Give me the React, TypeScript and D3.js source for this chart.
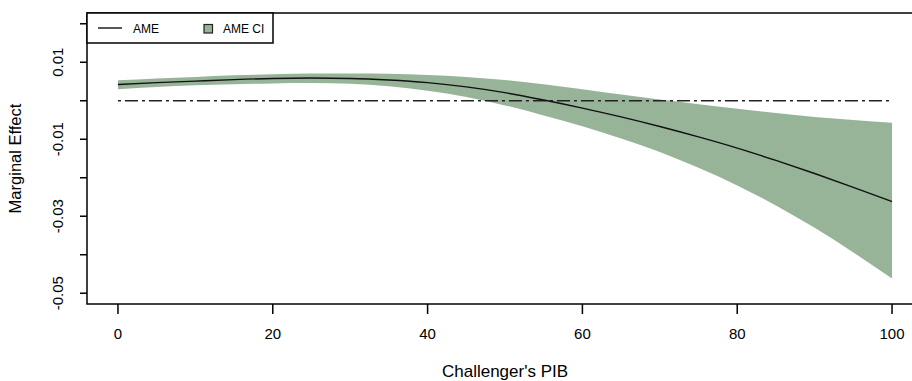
import React from 'react';
import * as d3 from 'd3';

// Challenger's PIB values and estimated marginal effect with CI
const pib = [0, 5, 10, 15, 20, 25, 30, 35, 40, 45, 50, 55, 60, 65, 70, 75, 80, 85, 90, 95, 100];
const ame = [0.0042, 0.0047, 0.0051, 0.0055, 0.0058, 0.0059, 0.0058, 0.0054, 0.0047, 0.0036, 0.0021, 0.0002,
  -0.0019, -0.0042, -0.0067, -0.0094, -0.0123, -0.0155, -0.0189, -0.0225, -0.0262];
const ciLow = [0.0030, 0.0036, 0.0040, 0.0043, 0.0045, 0.0046, 0.0044, 0.0038, 0.0026, 0.0010, -0.0012, -0.0038,
  -0.0066, -0.0098, -0.0133, -0.0174, -0.0220, -0.0272, -0.0330, -0.0394, -0.0462];
const ciHigh = [0.0053, 0.0058, 0.0062, 0.0066, 0.0069, 0.0071, 0.0071, 0.0070, 0.0067, 0.0062, 0.0054, 0.0043,
  0.0030, 0.0016, 0.0003, -0.0009, -0.0021, -0.0032, -0.0042, -0.0050, -0.0057];

const xTicks = [0, 20, 40, 60, 80, 100];
const yTicks = [-0.05, -0.04, -0.03, -0.02, -0.01, 0, 0.01, 0.02];
const yLabels = ['-0.05', '', '-0.03', '', '-0.01', '', '0.01', ''];

const W = 912;
const H = 381;
const left = 87, right = 923, top = 13, bottom = 304;
const font = '"Liberation Sans", Arial, Helvetica, sans-serif';
const bandColor = '#98b498';

export default function App() {
  // R-style 4% axis expansion
  const x = d3.scaleLinear().domain([-4, 104]).range([left, right]);
  const y = d3.scaleLinear().domain([-0.05 - 0.0028, 0.02 + 0.0028]).range([bottom, top]);

  const idx = d3.range(pib.length);
  const area = d3.area<number>()
    .x(i => x(pib[i]))
    .y0(i => y(ciLow[i]))
    .y1(i => y(ciHigh[i]))
    .curve(d3.curveMonotoneX);
  const line = d3.line<number>()
    .x(i => x(pib[i]))
    .y(i => y(ame[i]))
    .curve(d3.curveMonotoneX);

  return (
    <svg width={W} height={H} style={{ position: 'absolute', left: 0, top: 0, background: '#fff' }}
      fontFamily={font}>
      <path d={area(idx) || ''} fill={bandColor} />
      <line x1={x(0)} x2={x(100)} y1={y(0)} y2={y(0)} stroke="#222" strokeWidth={1.5}
        strokeDasharray="3,4,13,4" />
      <path d={line(idx) || ''} fill="none" stroke="#111" strokeWidth={1.4} />

      {/* plot box */}
      <rect x={left} y={top} width={right - left} height={bottom - top} fill="none" stroke="#000" strokeWidth={1.5} />

      {/* y axis */}
      {yTicks.map((t, i) => (
        <g key={t}>
          <line x1={left - 7} x2={left} y1={y(t)} y2={y(t)} stroke="#000" strokeWidth={1.5} />
          {yLabels[i] && (
            <text transform={`translate(63,${y(t)}) rotate(-90)`} textAnchor="middle" fontSize={15}>
              {yLabels[i]}
            </text>
          )}
        </g>
      ))}
      <text transform={`translate(21,${(top + bottom) / 2}) rotate(-90)`} textAnchor="middle" fontSize={16.5}>
        Marginal Effect
      </text>

      {/* x axis */}
      {xTicks.map(t => (
        <g key={t}>
          <line x1={x(t)} x2={x(t)} y1={bottom} y2={bottom + 10} stroke="#000" strokeWidth={1.5} />
          <text x={x(t)} y={339} textAnchor="middle" fontSize={15}>{t}</text>
        </g>
      ))}
      <text x={(left + right) / 2} y={377} textAnchor="middle" fontSize={17}>Challenger's PIB</text>

      {/* legend */}
      <rect x={87} y={13} width={186} height={30} fill="#fff" stroke="#000" strokeWidth={1.5} />
      <line x1={98} x2={122} y1={28} y2={28} stroke="#111" strokeWidth={1.4} />
      <text x={133} y={33} fontSize={12}>AME</text>
      <rect x={204} y={24.5} width={8.5} height={8.5} fill={bandColor} stroke="#222" strokeWidth={1.2} />
      <text x={223} y={33} fontSize={12}>AME CI</text>
    </svg>
  );
}
